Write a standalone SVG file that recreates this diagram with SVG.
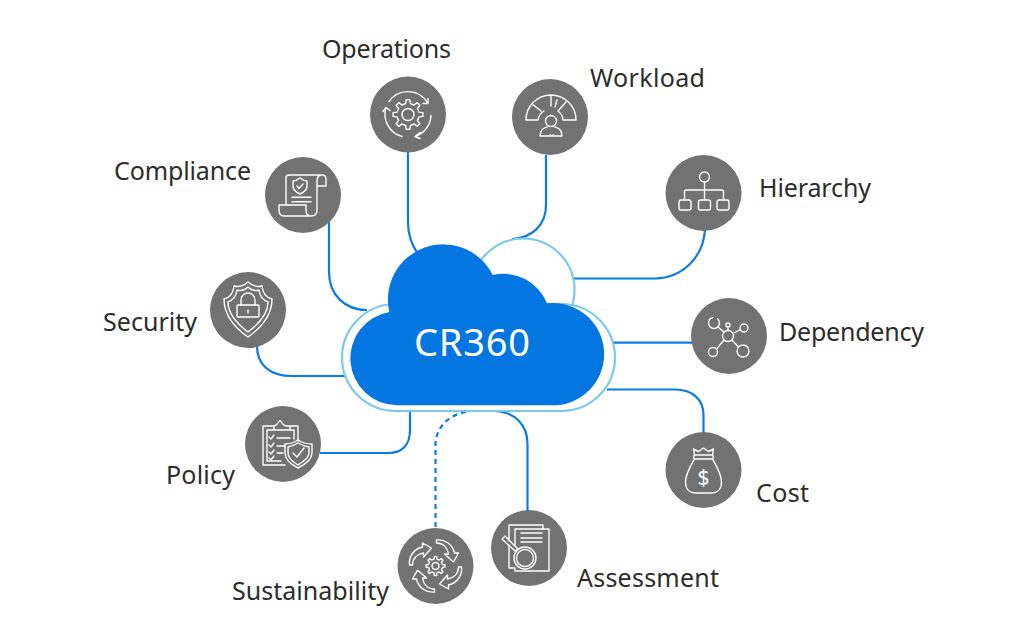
<svg xmlns="http://www.w3.org/2000/svg" width="1024" height="643" viewBox="0 0 1024 643">
<style>
.bg{fill:#717271}
.i{fill:none;stroke:#fff;stroke-width:1.4;stroke-linecap:round;stroke-linejoin:round}
.c{fill:none;stroke:#0a7be6;stroke-width:2.2}
.d{stroke-dasharray:5 4}
.l{font-family:"Noto Sans","Open Sans",sans-serif;font-size:25px;fill:#2c2c2c}
.o{fill:#fff;stroke:#7cc8f0;stroke-width:2.2}
</style>
<defs>
<polygon id="gear" vector-effect="non-scaling-stroke" points="7.34,-1.56 9.93,-1.22 9.93,1.22 7.34,1.56 6.29,4.08 7.88,6.16 6.16,7.88 4.08,6.29 1.56,7.34 1.22,9.93 -1.22,9.93 -1.56,7.34 -4.08,6.29 -6.16,7.88 -7.88,6.16 -6.29,4.08 -7.34,1.56 -9.93,1.22 -9.93,-1.22 -7.34,-1.56 -6.29,-4.08 -7.88,-6.16 -6.16,-7.88 -4.08,-6.29 -1.56,-7.34 -1.22,-9.93 1.22,-9.93 1.56,-7.34 4.08,-6.29 6.16,-7.88 7.88,-6.16 6.29,-4.08"/>
<path id="swirl" d="M1 -26C9 -27 17 -22 19 -13L23 -13L18 -4L9 -12L13 -12C12 -18 8 -23 1 -23Z"/>
</defs>

<g id="connectors">
<path class="c" d="M408 152V222Q408 240 418 254"/>
<path class="c" d="M546 155V205C546 225 532 238 512 239"/>
<path class="c" d="M329 222V272C329 295 345 310 367 310"/>
<path class="c" d="M257 346C257 365 270 376 292 376H345"/>
<path class="c" d="M320 453H388C402 453 410 445 410 430V410"/>
<path class="c d" d="M435.5 527V445C435.5 428 448 415 466 412"/>
<path class="c" d="M527.5 511V444C527.5 425 515 412 495 411"/>
<path class="c" d="M705 230C703 258 682 278 655 278.500H572"/>
<path class="c" d="M610 342.700H692"/>
<path class="c" d="M607 389.500H675C693 389.500 703.500 400 703.500 415V433"/>
</g>

<g id="cloud">
<circle class="o" cx="523" cy="290" r="51.500"/>
<rect class="o" x="342" y="304" width="273" height="107" rx="53.500"/>
<path fill="#0476e2" d="M397 405.300H553A51 51 0 0 0 553 303Q550 303 547 303.300A47 47 0 0 0 492.700 275A55.300 55.300 0 0 0 389.300 312A47 47 0 0 0 397 405.300Z"/>
<text x="472" y="356" text-anchor="middle" font-family="'Noto Sans','Open Sans',sans-serif" font-size="38" fill="#fff" textLength="116">CR360</text>
</g>

<g id="operations">
<text class="l" x="322" y="58" textLength="129">Operations</text>
<g transform="translate(408 114.500)">
<circle class="bg" r="38"/>
<use href="#gear" class="i" transform="scale(1.5)"/>
<circle class="i" r="6"/>
<path class="i" d="M-19 -13A23 23 0 0 1 20 -11M20 -11L20 -16M20 -11L15 -11M23 1A23 23 0 0 1 7 22M7 22L12 18M7 22L12 24M-6 22A23 23 0 0 1 -22 -7M-22 -7L-25 -3M-22 -7L-18 -4"/>
</g>
</g>

<g id="workload">
<text class="l" x="590" y="87" textLength="115">Workload</text>
<g transform="translate(550 117)">
<circle class="bg" r="38"/>
<path class="i" d="M-24 3A25 25 0 0 1 26 3H13A12.500 12.500 0 0 0 8 -6M-6 -6A12.500 12.500 0 0 0 -12 3H-24M-18 -13L-9 -6M1 -21V-11M16 -15L8 -6M7 -17L5 -10"/>
<circle class="i" cx="1" cy="4" r="5.500"/>
<path class="i" d="M-10 19C-10 12 -6 11 -3 10M12 19C12 12 8 11 5 10M-10 19H12M0 18H0.500M3 18H3.500"/>
</g>
</g>

<g id="compliance">
<text class="l" x="114" y="180" textLength="137">Compliance</text>
<g transform="translate(303 195)">
<circle class="bg" r="38"/>
<path class="i" d="M-17 10V-17Q-17 -20 -14 -20H19Q23 -20 23 -16V-9H14M19 -20Q14 -20 14 -14V15Q14 21 8 21H-19Q-24 21 -24 15V10H3V15Q3 21 8 21"/>
<path class="i" d="M-3 -17Q-7 -14 -10 -14V-9Q-10 -4 -3 -1Q4 -4 4 -9V-14Q1 -14 -3 -17ZM-6 -9L-4 -6.500L0 -11M-11 2.300H8M-11 6.700H8"/>
</g>
</g>

<g id="security">
<text class="l" x="103" y="331" textLength="94">Security</text>
<g transform="translate(248 310)">
<circle class="bg" r="38"/>
<path class="i" d="M-24 -11Q-15 -13 -14 -24Q-7 -22 0 -28Q7 -22 14 -24Q15 -13 24 -11C24 8 10 20 0 27C-10 20 -24 8 -24 -11Z"/>
<path class="i" d="M-20 -8Q-12 -11 -11 -20Q-5 -18 0 -23Q5 -18 11 -20Q12 -11 20 -8C20 6 8 16 0 22C-8 16 -20 6 -20 -8Z"/>
<rect class="i" x="-11" y="-5" width="22" height="12" rx="1"/>
<path class="i" d="M-7 -5V-10A7 7 0 0 1 7 -10V-5M0 0V3"/>
</g>
</g>

<g id="policy">
<text class="l" x="166" y="484" textLength="69">Policy</text>
<g transform="translate(283 444)">
<circle class="bg" r="38"/>
<path class="i" d="M2 21H-20V-18H-9M7 -18H15V-3M-16 17V-14H-9M7 -14H11V-5M-2 17H-16M-9 -14V-18Q-6 -19 -5 -21Q-3 -25 -1 -21Q0 -19 3 -18H7V-14Z"/>
<path class="i" d="M-14 -7L-12 -5L-9 -9M-14 1L-12 3L-9 -1M-14 8L-12 10L-9 6M-14 14L-12 16L-9 12M-6 -6H7M-6 2H2M-6 9H0"/>
<path class="i" d="M15 -4Q9 0 2 0V9C2 16 9 21 15 24C21 21 29 16 29 9V0Q21 0 15 -4Z"/>
<path class="i" d="M15 -1Q10 2 5 3V9C5 14 10 18 15 21C20 18 26 14 26 9V3Q20 2 15 -1ZM10 9L14 13L21 4"/>
</g>
</g>

<g id="sustainability">
<text class="l" x="232" y="600" textLength="157">Sustainability</text>
<g transform="translate(435.500 566)">
<circle class="bg" r="38"/>
<use href="#gear" class="i" transform="scale(0.95)"/>
<circle class="i" r="3.500"/>
<use href="#swirl" class="i"/>
<use href="#swirl" class="i" transform="rotate(90)"/>
<use href="#swirl" class="i" transform="rotate(180)"/>
<use href="#swirl" class="i" transform="rotate(270)"/>
</g>
</g>

<g id="assessment">
<text class="l" x="577" y="587" textLength="142">Assessment</text>
<g transform="translate(529 548)">
<circle class="bg" r="38"/>
<path class="i" d="M-20 -7V-23H14V-19M-20 -3V20H-14"/>
<path class="i" d="M-14 -19H20V23H-14V21M-14 -3V-19M-8 -15H13M-8 -10H13M-8 -6H13"/>
<circle class="i" cx="-4" cy="10" r="11"/>
<circle class="i" cx="-4" cy="10" r="8.500"/>
<path class="i" d="M-27 -9L-24 -12L-11 1L-14 3Z"/>
</g>
</g>

<g id="hierarchy">
<text class="l" x="759" y="197" textLength="112">Hierarchy</text>
<g transform="translate(703.500 193)">
<circle class="bg" r="38"/>
<circle class="i" cx="1" cy="-16" r="5"/>
<path class="i" d="M1 -11V7M-19 7V-1Q-19 -3 -17 -3H18Q20 -3 20 -1V7"/>
<rect class="i" x="-24.500" y="7" width="12" height="10" rx="2"/>
<rect class="i" x="-5" y="7" width="12" height="10" rx="2"/>
<rect class="i" x="13.500" y="7" width="12" height="10" rx="2"/>
</g>
</g>

<g id="dependency">
<text class="l" x="779" y="341" textLength="145">Dependency</text>
<g transform="translate(729 336)">
<circle class="bg" r="38"/>
<circle class="i" cx="-1" cy="0" r="5.500"/>
<circle class="i" cx="-15" cy="-13" r="5.500" stroke-dasharray="24 5"/>
<circle class="i" cx="-1" cy="-11" r="2"/>
<circle class="i" cx="15" cy="-8" r="4"/>
<circle class="i" cx="14" cy="15" r="6"/>
<circle class="i" cx="-16" cy="16" r="4.500"/>
<path class="i" d="M-5 -4L-11 -9M-1 -5.500V-9M4 -2.500L11.500 -6.500M3 4L9.500 11M-5 4L-12.500 13"/>
</g>
</g>

<g id="cost">
<text class="l" x="756" y="502" textLength="53">Cost</text>
<g transform="translate(703.500 470)">
<circle class="bg" r="38"/>
<path class="i" d="M-9 -15L-10 -21L-5 -18.500L0 -22L5 -18.500L10 -21L9 -15M-9 -15H9Q11 -13 9 -11H-9Q-11 -13 -9 -15M-9 -11C-13 -4 -18 4 -18 12C-18 20 -13 23 -8 23H8C13 23 18 20 18 12C18 4 13 -4 9 -11"/>
<text x="0" y="15" text-anchor="middle" font-family="'Noto Sans',sans-serif" font-size="21" fill="#fff">$</text>
</g>
</g>
</svg>
